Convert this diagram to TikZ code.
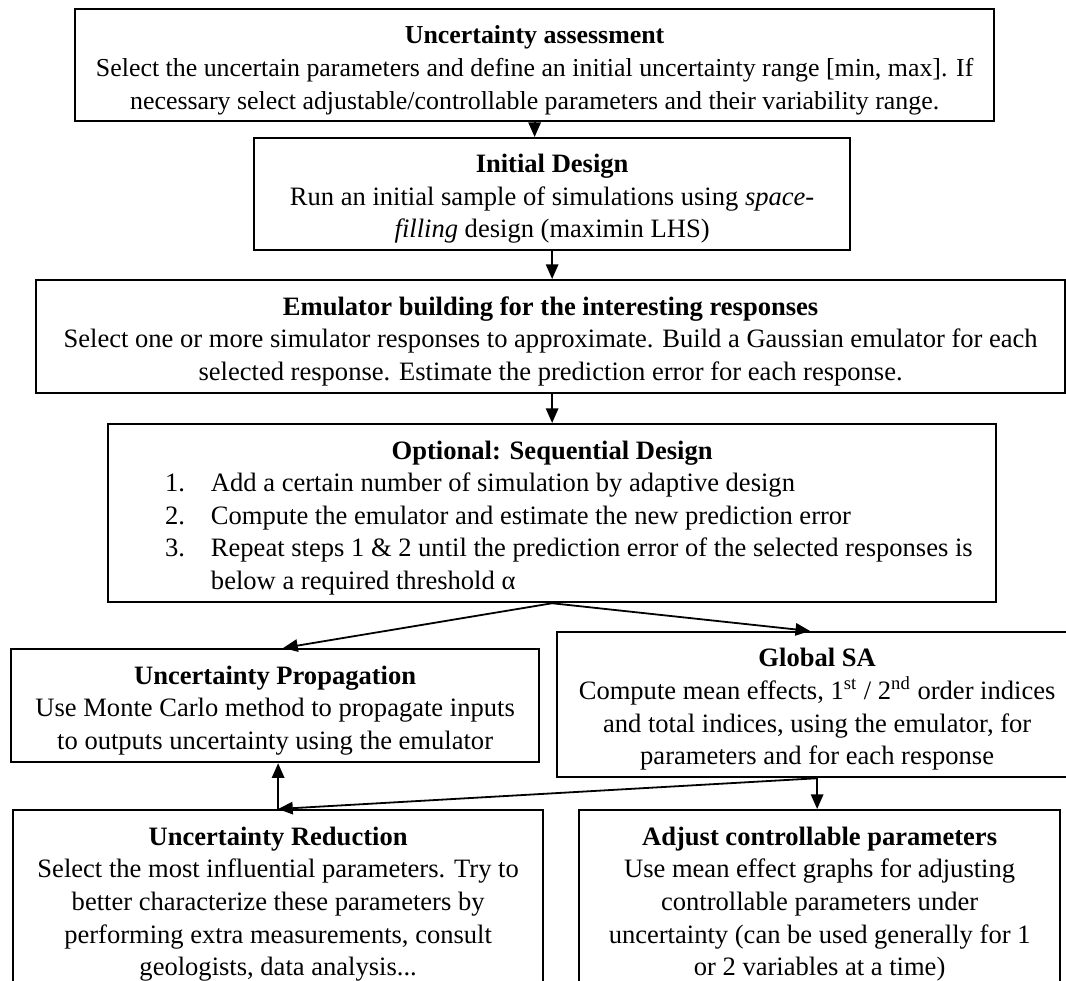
\documentclass[tikz,border=0pt]{standalone}
\usepackage{fontspec}
\setmainfont{Liberation Serif}
\usetikzlibrary{arrows.meta,calc}
\newcommand*{\pxu}{0.4444pt}
% box heading, with a strut that drops the text a little
\newcommand*{\boxtitle}[1]{\rule{0pt}{12.5pt}\textbf{#1}}
% one numbered line of the sequential design box
\newcommand*{\seqitem}[2]{\makebox[386pt][l]{\hspace*{21pt}\makebox[20.4pt][l]{#1}#2}}

\tikzset{
  box/.style={draw, line width=1pt, inner sep=0pt, align=center, anchor=north west,
    font=\fontsize{11.8}{14.5}\selectfont},
  arr/.style={line width=0.8pt, -{Triangle[length=6.5pt,width=5.5pt]}}
}

\begin{document}
\begin{tikzpicture}[x=\pxu, y=-\pxu]
  \path[use as bounding box] (0,0) rectangle (1066,981);
  \clip (0,0) rectangle (1066,981);
  % main chain
  \node[box, minimum width=919*\pxu, minimum height=112*\pxu, font=\fontsize{11.5}{14.5}\selectfont] (assess) at (74,8)
    {\boxtitle{Uncertainty assessment}\\
     Select the uncertain parameters and define an initial uncertainty range [min, max]. If\\
     necessary select adjustable/controllable parameters and their variability range.};
  \node[box, minimum width=596*\pxu, minimum height=112*\pxu] (init) at (253,137)
    {\boxtitle{Initial Design}\\
     Run an initial sample of simulations using \textit{space-}\\
     \textit{filling} design (maximin LHS)};
  \node[box, minimum width=1029*\pxu, minimum height=113*\pxu] (emul) at (35,279)
    {\boxtitle{Emulator building for the interesting responses}\\
     Select one or more simulator responses to approximate. Build a Gaussian emulator for each\\
     selected response. Estimate the prediction error for each response.};
  \node[box, minimum width=888*\pxu, minimum height=178*\pxu] (seq) at (107,423)
    {\boxtitle{Optional: Sequential Design}\\
     \seqitem{1.}{Add a certain number of simulation by adaptive design}\\
     \seqitem{2.}{Compute the emulator and estimate the new prediction error}\\
     \seqitem{3.}{Repeat steps 1 \& 2 until the prediction error of the selected responses is}\\
     \seqitem{}{below a required threshold α}};
  % results
  \node[box, minimum width=528*\pxu, minimum height=113*\pxu] (prop) at (10,648)
    {\boxtitle{Uncertainty Propagation}\\
     Use Monte Carlo method to propagate inputs\\
     to outputs uncertainty using the emulator};
  \node[box, minimum width=520*\pxu, minimum height=145*\pxu] (gsa) at (556,631)
    {\boxtitle{Global SA}\\
     Compute mean effects, 1\textsuperscript{st} / 2\textsuperscript{nd} order indices\\
     and total indices, using the emulator, for\\
     parameters and for each response};
  \node[box, minimum width=530*\pxu, minimum height=188*\pxu] (reduce) at (12,809)
    {\textbf{Uncertainty Reduction}\\
     Select the most influential parameters. Try to\\
     better characterize these parameters by\\
     performing extra measurements, consult\\
     geologists, data analysis...};
  \node[box, minimum width=481*\pxu, minimum height=188*\pxu] (adjust) at (578,809)
    {\textbf{Adjust controllable parameters}\\
     Use mean effect graphs for adjusting\\
     controllable parameters under\\
     uncertainty (can be used generally for 1\\
     or 2 variables at a time)};
  % arrows
  \draw[arr] (assess.south) -- (assess.south |- init.north);
  \draw[arr] (init.south) -- (init.south |- emul.north);
  \draw[arr] (emul.south -| seq.north) -- (seq.north);
  \draw[arr] (seq.south) -- ([xshift=8*\pxu]prop.north);
  \draw[arr] (seq.south) -- ([xshift=-7*\pxu]gsa.north);
  \draw[arr] (gsa.south) -- (reduce.north);
  \draw[arr] (gsa.south) -- (gsa.south |- adjust.north);
  \draw[arr] (reduce.north) -- (reduce.north |- prop.south);
\end{tikzpicture}
\end{document}
